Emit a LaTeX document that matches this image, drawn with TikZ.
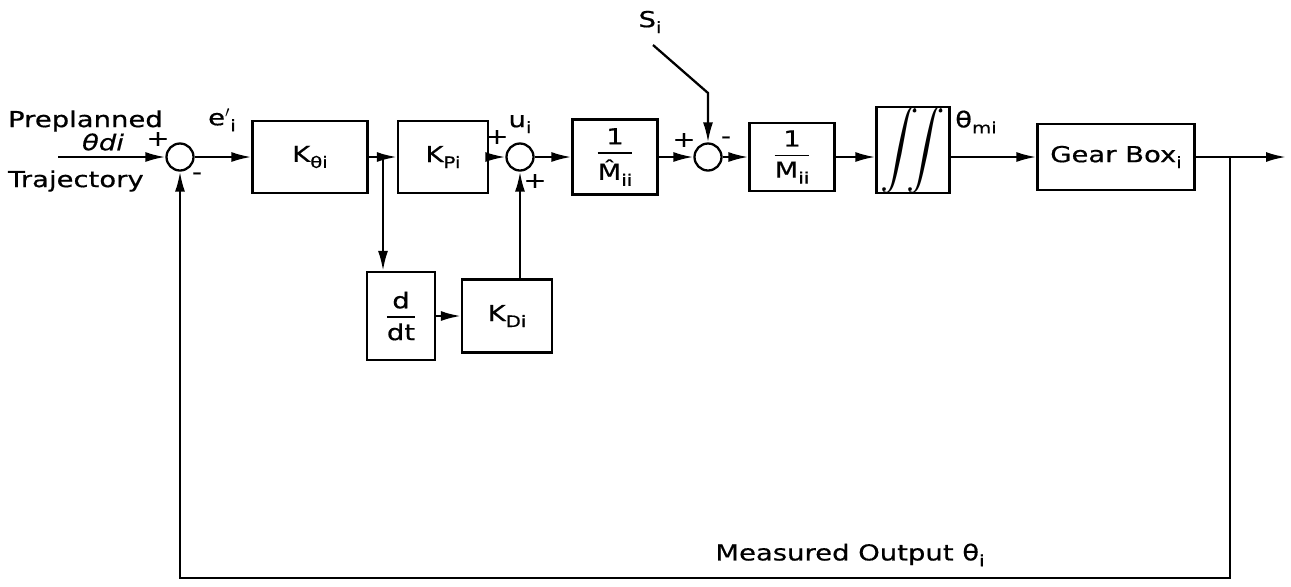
\documentclass[tikz,border=0pt]{standalone}
\usepackage{amsmath}
\usepackage{fontspec}
\setsansfont{DejaVu Sans}[FakeStretch=1.25, FakeBold=0.6]
\usetikzlibrary{arrows.meta}
\newcommand\plotsize{\fontsize{12.5}{14}\selectfont}
\newcommand\lowsub[1]{\raisebox{-0.5ex}{\small #1}}
\newcommand\blockfrac[2]{$\genfrac{}{}{1pt}{0}{\textsf{#1}}{\textsf{#2}}$}

\begin{document}
\begin{tikzpicture}[
    x=0.02cm, y=-0.02cm,
    block/.style={
        draw,
        line width=1.3pt,
        inner sep=0pt,
        font=\sffamily\plotsize
    },
    sumpt/.style={
        circle,
        draw,
        line width=1.3pt,
        minimum size=0.54cm,
        inner sep=0pt
    },
    lbl/.style={font=\sffamily\plotsize, inner sep=1pt},
    sig/.style={line width=1.3pt, -{Latex[length=4mm,width=2mm]}},
    wire/.style={line width=1.3pt}
]
\useasboundingbox (0,0) rectangle (1291,586);

% Summing junctions
\node[sumpt] (s1) at (180,157) {};
\node[sumpt] (s2) at (520,157) {};
\node[sumpt] (s3) at (708,157) {};

% Forward path blocks
\node[block, minimum width=2.3cm, minimum height=1.44cm] (Kt) at (310,157) {K\lowsub{θi}};
\node[block, minimum width=1.8cm, minimum height=1.44cm] (KP) at (443,157) {K\lowsub{Pi}};
\node[block, minimum width=1.7cm, minimum height=1.5cm] (Mh) at (615,157)
    {\blockfrac{1}{\^{M}\lowsub{ii}}};
\node[block, minimum width=1.7cm, minimum height=1.36cm] (M) at (792,157)
    {\blockfrac{1}{M\lowsub{ii}}};
\node[block, minimum width=1.46cm, minimum height=1.62cm] (Int) at (913,150)
    {\resizebox{!}{1.05cm}{$\displaystyle\int\!\!\!\int$}};
\node[block, minimum width=3.14cm, minimum height=1.32cm] (GB) at (1116,157) {Gear Box\lowsub{i}};

% Derivative branch
\node[block, minimum width=1.36cm, minimum height=1.76cm] (ddt) at (401,316)
    {\blockfrac{d}{dt}};
\node[block, minimum width=1.8cm, minimum height=1.46cm] (KD) at (507,316) {K\lowsub{Di}};

% Free ends and corners
\coordinate (in) at (58,157);
\coordinate (br) at (383,157);
\coordinate (ob) at (1230,157);
\coordinate (out) at (1286,157);
\coordinate (fb1) at (1230,578);
\coordinate (fb2) at (180,578);
\coordinate (sbend) at (708,93);
\coordinate (sstart) at (653,45);

% Forward path
\draw[sig] (in) -- (s1);
\draw[sig] (s1) -- (Kt);
\draw[wire] (Kt) -- (br);
\draw[sig] (br) -- (KP);
\draw[sig] (KP) -- (s2);
\draw[sig] (s2) -- (Mh);
\draw[sig] (Mh) -- (s3);
\draw[sig] (s3) -- (M);
\draw[sig] (M) -- (M -| Int.west);
\draw[sig] (Int.east |- GB) -- (GB);
\draw[wire] (GB) -- (ob);
\draw[sig] (ob) -- (out);

% Derivative path
\draw[sig] (br) -- (br |- ddt.north);
\draw[sig] (ddt) -- (KD);
\draw[sig] (KD.north -| s2) -- (s2);

% Disturbance
\draw[sig] (sstart) -- (sbend) -- (s3);

% Feedback
\draw[sig] (ob) -- (fb1) -- (fb2) -- (s1);

% Labels
\node[lbl, anchor=west] (pre) at (6,121) {Preplanned};
\node[lbl] (thd) at (103,142) {\itshape θdi};
\node[lbl, anchor=west] (traj) at (6,181) {Trajectory};
\node[lbl] (p1) at (158,139) {+};
\node[lbl] (m1) at (197,176) {-};
\node[lbl] (ei) at (222,120) {e$'$\lowsub{i}};
\node[lbl] (ui) at (520,124) {u\lowsub{i}};
\node[lbl] (p2) at (497,137) {+};
\node[lbl] (p3) at (535,181) {+};
\node[lbl] (p4) at (684,140) {+};
\node[lbl] (m3) at (726,140) {-};
\node[lbl] (si) at (650,22) {S\lowsub{i}};
\node[lbl] (thm) at (976,122) {θ\lowsub{mi}};
\node[lbl] (meas) at (850,555) {Measured Output θ\lowsub{i}};

\end{tikzpicture}
\end{document}
